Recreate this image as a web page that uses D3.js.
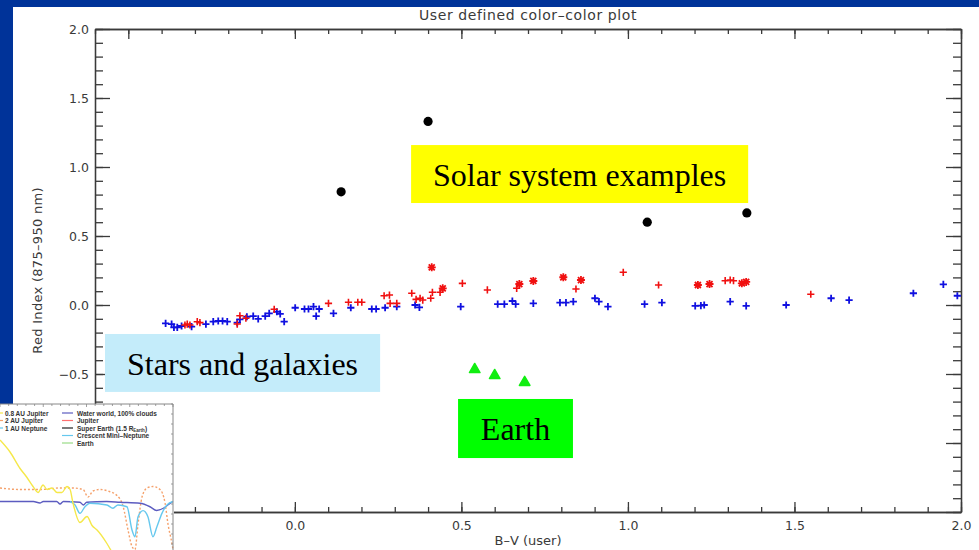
<!DOCTYPE html>
<html>
<head>
<meta charset="utf-8">
<script src="https://cdn.jsdelivr.net/npm/d3@7"></script>
<style>
  body { margin: 0; background: #003399; }
  svg { display: block; }
  .axis path, .axis line { stroke: #3a3a3a; stroke-width: 1.3; }
  .axis text { font-family: "DejaVu Sans", sans-serif; font-size: 12.5px; fill: #3a3a3a; }
  .lbl { font-family: "DejaVu Sans", sans-serif; fill: #3a3a3a; }
  .note { font-family: "Liberation Serif", "Times New Roman", serif; font-size: 32px; fill: #000; }
  .inset-txt { font-family: "Liberation Sans", Arial, sans-serif; font-size: 6.5px; font-weight: bold; fill: #333; }
</style>
</head>
<body>
<div id="chart"></div>
<script>
// ---- data: [B-V, Red Index] ----
const blueStars = [
  [-0.388,-0.133],[-0.370,-0.138],[-0.363,-0.162],[-0.353,-0.162],[-0.340,-0.152],[-0.310,-0.157],
  [-0.267,-0.138],[-0.245,-0.121],[-0.230,-0.116],[-0.217,-0.116],[-0.203,-0.121],[-0.173,-0.128],
  [-0.165,-0.104],[-0.144,-0.085],[-0.125,-0.080],[-0.110,-0.101],[-0.089,-0.080],[-0.077,-0.060],
  [-0.054,-0.049],[-0.044,-0.065],[-0.032,-0.121],[0.001,-0.020],[0.029,-0.029],[0.041,-0.029],
  [0.056,-0.012],[0.064,-0.080],[0.073,-0.029],[0.116,-0.060],[0.168,-0.020],[0.231,-0.029],
  [0.244,-0.029],[0.271,-0.020],[0.306,-0.012],[0.361,0.000],[0.374,-0.017],[0.498,-0.012],
  [0.609,0.007],[0.629,0.007],[0.653,0.029],[0.663,0.007],[0.716,0.012],[0.796,0.017],
  [0.814,0.017],[0.836,0.024],[0.901,0.049],[0.913,0.024],[0.940,-0.012],[1.050,0.007],
  [1.102,0.017],[1.202,-0.007],[1.219,-0.005],[1.229,0.000],[1.307,0.024],[1.355,-0.007],
  [1.475,0.000],[1.610,0.049],[1.664,0.036],[1.857,0.085],[1.947,0.150],[1.989,0.067]
];
const redStars = [
  [-0.330,-0.145],[-0.323,-0.138],[-0.315,-0.145],[-0.293,-0.121],[-0.285,-0.128],[-0.173,-0.138],
  [-0.165,-0.078],[-0.147,-0.096],[-0.062,-0.031],[0.101,0.012],[0.161,0.020],[0.189,0.020],
  [0.201,0.020],[0.268,0.067],[0.284,0.072],[0.286,0.012],[0.306,0.012],[0.351,0.085],
  [0.364,0.041],[0.376,0.049],[0.384,0.036],[0.408,0.049],[0.413,0.092],[0.436,0.092],
  [0.503,0.157],[0.578,0.109],[0.666,0.121],[0.844,0.116],[0.986,0.237],[1.092,0.145],
  [1.292,0.176],[1.307,0.181],[1.317,0.176],[1.549,0.078]
];
const redAsterisks = [
  [0.411,0.273],[0.444,0.121],[0.674,0.152],[0.716,0.174],[0.806,0.201],[0.859,0.181],
  [1.210,0.145],[1.245,0.152],[1.342,0.157],[1.355,0.167]
];
const solarSystem = [[0.139,0.82],[0.40,1.33],[1.058,0.60],[1.357,0.667]];
const earth = [[0.54,-0.457],[0.60,-0.50],[0.69,-0.55]];

const xMajor = [-0.5, 0.0, 0.5, 1.0, 1.5, 2.0];
const yMajor = [-1.5, -1.0, -0.5, 0.0, 0.5, 1.0, 1.5, 2.0];

// annotation boxes in data units: [x0, x1, yTop, yBottom]
const notes = [
  { text: "Solar system examples", box: [0.349, 1.361, 1.159, 0.739], fill: "#ffff00" },
  { text: "Stars and galaxies", box: [-0.570, 0.256, -0.210, -0.630], fill: "#c4ecfa" },
  { text: "Earth", box: [0.490, 0.835, -0.681, -1.109], fill: "#00ff00" }
];

// inset spectra (x: 0..1 across the inset, y: 0..1 bottom to top)
const insetYellow = [[0,0.76],[0.058,0.68],[0.116,0.57],[0.156,0.51],[0.191,0.45],[0.22,0.41],[0.249,0.46],
  [0.272,0.43],[0.3,0.44],[0.33,0.41],[0.358,0.41],[0.387,0.45],[0.405,0.43],[0.422,0.34],[0.462,0.21],
  [0.503,0.25],[0.532,0.19],[0.561,0.16],[0.618,0.07],[0.653,0.0]];
const insetOrange = [[0,0.44],[0.116,0.43],[0.231,0.43],[0.347,0.44],[0.422,0.44],[0.48,0.43],[0.509,0.38],
  [0.538,0.42],[0.578,0.43],[0.624,0.42],[0.676,0.39],[0.711,0.32],[0.74,0.16],[0.763,0.05],[0.78,0.03],
  [0.798,0.2],[0.821,0.38],[0.85,0.44],[0.884,0.45],[0.925,0.43],[0.954,0.34],[0.971,0.2],[0.994,0.07],[1,0.03]];
const insetPurple = [[0,0.35],[0.193,0.35],[0.231,0.34],[0.25,0.35],[0.328,0.35],[0.347,0.333],[0.366,0.35],
  [0.462,0.345],[0.482,0.327],[0.501,0.345],[0.617,0.35],[0.694,0.345],[0.809,0.338],[0.867,0.315],
  [0.905,0.29],[0.944,0.305],[0.983,0.338],[1,0.35]];
const insetCyan = [[0.405,0.35],[0.434,0.327],[0.462,0.271],[0.491,0.315],[0.52,0.338],[0.618,0.327],
  [0.653,0.305],[0.682,0.327],[0.734,0.315],[0.763,0.16],[0.78,0.115],[0.798,0.249],[0.827,0.289],
  [0.855,0.249],[0.884,0.115],[0.907,0.182],[0.936,0.271],[0.965,0.327],[1,0.35]];
const insetLegendLeft = ["0.8 AU Jupiter", "2 AU Jupiter", "1 AU Neptune"];
const insetLegendRight = ["Water world, 100% clouds", "Jupiter", "Super Earth (1.5 R", "Crescent Mini\u2013Neptune", "Earth"];

const W = 979, H = 550;
const margin = { top: 29, right: 18, bottom: 38, left: 95 };
const width = W - margin.left - margin.right;
const height = H - margin.top - margin.bottom;

const svg = d3.select("#chart").append("svg")
  .attr("width", W).attr("height", H);

// slide background: blue border with white panel
svg.append("rect").attr("width", W).attr("height", H).attr("fill", "#003399");
svg.append("rect").attr("x", 13).attr("y", 7).attr("width", W - 13).attr("height", H - 7).attr("fill", "#fff");

const chart = svg.append("g").attr("transform", `translate(${margin.left},${margin.top})`);

const x = d3.scaleLinear().domain([-0.6, 2.0]).range([0, width]);
const y = d3.scaleLinear().domain([-1.5, 2.0]).range([height, 0]);

const minorX = d3.range(-6, 21).map(i => i / 10);
const minorY = d3.range(-15, 21).map(i => i / 10);
const fmt = d3.format(".1f");
// labels that sit under the pasted inset are not visible in the original
const xFmt = d => d < 0 ? "" : fmt(d);
const yFmt = d => d < -0.5 ? "" : fmt(d);

// IDL-style box axes with inward ticks
chart.append("g").attr("class", "axis").attr("transform", `translate(0,${height})`)
  .call(d3.axisBottom(x).tickValues(xMajor).tickFormat(xFmt).tickSize(-10).tickSizeOuter(0).tickPadding(9));
chart.append("g").attr("class", "axis").attr("transform", `translate(0,${height})`)
  .call(d3.axisBottom(x).tickValues(minorX).tickFormat("").tickSize(-5).tickSizeOuter(0));
chart.append("g").attr("class", "axis")
  .call(d3.axisTop(x).tickValues(xMajor).tickFormat("").tickSize(-10).tickSizeOuter(0));
chart.append("g").attr("class", "axis")
  .call(d3.axisTop(x).tickValues(minorX).tickFormat("").tickSize(-5).tickSizeOuter(0));

chart.append("g").attr("class", "axis")
  .call(d3.axisLeft(y).tickValues(yMajor).tickFormat(yFmt).tickSize(-15).tickSizeOuter(0).tickPadding(6));
chart.append("g").attr("class", "axis")
  .call(d3.axisLeft(y).tickValues(minorY).tickFormat("").tickSize(-8).tickSizeOuter(0));
chart.append("g").attr("class", "axis").attr("transform", `translate(${width},0)`)
  .call(d3.axisRight(y).tickValues(yMajor).tickFormat("").tickSize(-15).tickSizeOuter(0));
chart.append("g").attr("class", "axis").attr("transform", `translate(${width},0)`)
  .call(d3.axisRight(y).tickValues(minorY).tickFormat("").tickSize(-8).tickSizeOuter(0));

// titles
chart.append("text").attr("class", "lbl")
  .attr("x", width / 2).attr("y", -9)
  .attr("text-anchor", "middle").style("font-size", "14px").style("letter-spacing", "0.6px")
  .text("User defined color\u2013color plot");
chart.append("text").attr("class", "lbl")
  .attr("x", width / 2).attr("y", height + 33)
  .attr("text-anchor", "middle").style("font-size", "13px")
  .text("B\u2013V (user)");
chart.append("text").attr("class", "lbl")
  .attr("transform", "rotate(-90)")
  .attr("x", -height / 2).attr("y", -53)
  .attr("text-anchor", "middle").style("font-size", "13px").style("letter-spacing", "0.3px")
  .text("Red Index (875\u2013950 nm)");

// markers
const plus = (g, s) => g.attr("d", `M${-s},0H${s}M0,${-s}V${s}`);
chart.append("g").selectAll("path")
  .data(blueStars).join("path")
  .attr("transform", d => `translate(${x(d[0])},${y(d[1])})`)
  .call(plus, 3.6)
  .attr("stroke", "#1010e0").attr("stroke-width", 1.8).attr("fill", "none");

chart.append("g").selectAll("path")
  .data(redStars).join("path")
  .attr("transform", d => `translate(${x(d[0])},${y(d[1])})`)
  .call(plus, 3.6)
  .attr("stroke", "#f01010").attr("stroke-width", 1.6).attr("fill", "none");

chart.append("g").selectAll("path")
  .data(redAsterisks).join("path")
  .attr("transform", d => `translate(${x(d[0])},${y(d[1])})`)
  .attr("d", "M-4,0H4M0,-4V4M-3,-3L3,3M-3,3L3,-3")
  .attr("stroke", "#f01010").attr("stroke-width", 1.8).attr("fill", "none");

chart.append("g").selectAll("circle")
  .data(solarSystem).join("circle")
  .attr("cx", d => x(d[0])).attr("cy", d => y(d[1]))
  .attr("r", 4.6).attr("fill", "#000");

chart.append("g").selectAll("path")
  .data(earth).join("path")
  .attr("transform", d => `translate(${x(d[0])},${y(d[1]) + 1.5})`)
  .attr("d", d3.symbol(d3.symbolTriangle, 48))
  .attr("fill", "#11ee11").attr("stroke", "#11ee11").attr("stroke-width", 1.5).attr("stroke-linejoin", "round");

// annotation boxes
const nb = chart.append("g").selectAll("g").data(notes).join("g");
nb.append("rect")
  .attr("x", d => x(d.box[0])).attr("y", d => y(d.box[2]))
  .attr("width", d => x(d.box[1]) - x(d.box[0]))
  .attr("height", d => y(d.box[3]) - y(d.box[2]))
  .attr("fill", d => d.fill);
nb.append("text").attr("class", "note")
  .attr("x", d => (x(d.box[0]) + x(d.box[1])) / 2)
  .attr("y", d => y(d.box[2]) + 41)
  .attr("text-anchor", "middle")
  .text(d => d.text);

// inset spectra picture, bottom-left
const inset = svg.append("g").attr("transform", "translate(0,404)");
const iw = 173, ih = 150;
inset.append("rect").attr("x", -1).attr("y", 0).attr("width", iw + 2).attr("height", ih).attr("fill", "#fff");
const ix = d3.scaleLinear().domain([0, 1]).range([0, iw]);
const iy = d3.scaleLinear().domain([0, 1]).range([ih, 0]);
const iline = d3.line().x(d => ix(d[0])).y(d => iy(d[1])).curve(d3.curveMonotoneX);

inset.append("path").datum(insetOrange).attr("d", iline)
  .attr("fill", "none").attr("stroke", "#f5a06a").attr("stroke-width", 1.4).attr("stroke-dasharray", "2,2");
inset.append("path").datum(insetPurple).attr("d", iline)
  .attr("fill", "none").attr("stroke", "#5c5cc0").attr("stroke-width", 1.4);
inset.append("path").datum(insetCyan).attr("d", iline)
  .attr("fill", "none").attr("stroke", "#66c8ee").attr("stroke-width", 1.4);
inset.append("path").datum(insetYellow).attr("d", iline)
  .attr("fill", "none").attr("stroke", "#f5e84a").attr("stroke-width", 1.4);

// inset frame and ticks
inset.append("path").attr("d", `M-1,0H${iw}V${ih}`).attr("fill", "none").attr("stroke", "#888").attr("stroke-width", 1);
inset.append("g").selectAll("line").data(d3.range(0, 21).map(i => i / 20)).join("line")
  .attr("x1", d => ix(d)).attr("x2", d => ix(d)).attr("y1", 0).attr("y2", (d, i) => i % 5 ? 2 : 3)
  .attr("stroke", "#888").attr("stroke-width", 0.8);
inset.append("g").selectAll("line").data(d3.range(0, 16).map(i => i / 15)).join("line")
  .attr("x1", iw).attr("x2", iw - 2).attr("y1", d => iy(d)).attr("y2", d => iy(d))
  .attr("stroke", "#888").attr("stroke-width", 0.8);

// inset legend
const leftCols = ["#f5e84a", "#f5a06a", "#66c8ee"];
const rightCols = ["#5c5cc0", "#ff7070", "#222", "#66c8ee", "#99dd88"];
insetLegendLeft.forEach((t, i) => {
  inset.append("line").attr("x1", 0).attr("x2", 3).attr("y1", 9 + i * 7.5).attr("y2", 9 + i * 7.5)
    .attr("stroke", leftCols[i]).attr("stroke-width", 1.2);
  inset.append("text").attr("class", "inset-txt").attr("x", 5).attr("y", 11.5 + i * 7.5).text(t);
});
insetLegendRight.forEach((t, i) => {
  inset.append("line").attr("x1", 62).attr("x2", 73).attr("y1", 9 + i * 7.5).attr("y2", 9 + i * 7.5)
    .attr("stroke", rightCols[i]).attr("stroke-width", 1.2);
  const tx = inset.append("text").attr("class", "inset-txt").attr("x", 77).attr("y", 11.5 + i * 7.5).text(t);
  if (i === 2) {
    tx.append("tspan").attr("dy", 1.2).style("font-size", "4.5px").text("Earth");
    tx.append("tspan").attr("dy", -1.2).text(")");
  }
});
</script>
</body>
</html>
